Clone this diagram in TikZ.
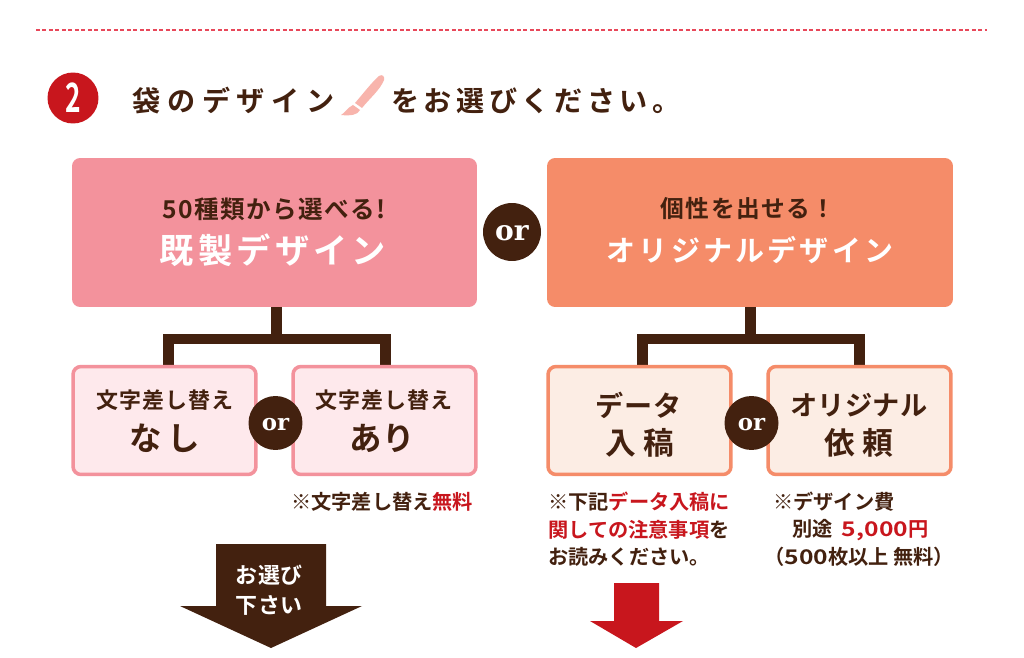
\documentclass[tikz,border=0pt]{standalone}
\usepackage{fontspec}
\setmainfont{Noto Sans CJK JP}[BoldFont=* Bold]
\newfontfamily\orfont{DejaVu Serif}[BoldFont=* Bold]
\definecolor{brown}{HTML}{43210F}
\definecolor{redd}{HTML}{C8161D}
\definecolor{pinkd}{HTML}{F3929C}
\definecolor{pinkl}{HTML}{FEE9EC}
\definecolor{orand}{HTML}{F58C69}
\definecolor{oranl}{HTML}{FCEDE4}
\definecolor{brush}{HTML}{F8B4AC}
\definecolor{dashc}{HTML}{E8485A}
\newcommand{\pxf}[2]{\fontsize{#1}{#1}\selectfont\addfontfeature{LetterSpace=#2}}
\newcommand{\wide}[1]{\scalebox{1.22}[1]{#1}}
\newcommand{\ortxt}{\raisebox{-.6ex}[0pt][0pt]{or}}
\tikzset{%
  bigbox/.style={shape=rectangle,rounded corners=.16cm,inner sep=0,outer sep=0,minimum height=2.98cm},
  smallbox/.style={shape=rectangle,rounded corners=.16cm,line width=.07cm,inner sep=0,outer sep=0,minimum width=3.66cm,minimum height=2.16cm},
  ordot/.style={shape=circle,fill=brown,text=white,inner sep=0},
  txt/.style={inner sep=0,text=brown,font=\bfseries},
  note/.style={txt,anchor=west},
  tree/.style={draw=brown,line width=.22cm}
}

\begin{document}
\begin{tikzpicture}[x=.02cm,y=-.02cm]
    \path[use as bounding box,fill=white] (0,0) rectangle (1024,658);
    \draw[draw=dashc,line width=.025cm,dash pattern=on .08cm off .05cm] (36,30) -- (987,30);
    % heading
    \node[shape=circle,fill=redd,inner sep=0,minimum size=1.02cm] (num) at (73,98) {};
    \node[text=white,font=\bfseries\fontsize{23}{23}\selectfont,xscale=.65] (numtxt) at (73,98) {2};
    \node[txt,anchor=west] (head1) at (132,101) {\pxf{16}{24}袋のデザイン};
    \node[txt,anchor=west] (head2) at (391,101) {\pxf{16}{16}をお選びください。};
    \fill[brush] (379,76) .. controls (382,74) and (385,76) .. (384,80) .. controls (380,90) and (370,98) .. (362,108) -- (355,103) .. controls (362,95) and (372,82) .. (379,76) -- cycle;
    \fill[brush] (353,105) -- (360,110) .. controls (358,115) and (350,116) .. (341,115) .. controls (345,113) and (347,108) .. (353,105) -- cycle;
    % boxes
    \node[bigbox,fill=pinkd,minimum width=8.1cm] (stock) at (274.5,232.5) {};
    \node[bigbox,fill=orand,minimum width=8.12cm] (orig) at (750,232.5) {};
    \node[ordot,minimum size=1.16cm,font=\orfont\bfseries\fontsize{16}{16}\selectfont] (or1) at (512,232) {\ortxt};
    \coordinate (hub1) at (276,339);
    \coordinate (hub2) at (750,339);
    \coordinate (drop1) at (168,366);
    \coordinate (drop2) at (385,366);
    \coordinate (drop3) at (642,366);
    \coordinate (drop4) at (859,366);
    \draw[tree] (hub1 |- stock.south) -- (hub1);
    \draw[tree] (drop1) |- (hub1) -| (drop2);
    \draw[tree] (hub2 |- orig.south) -- (hub2);
    \draw[tree] (drop3) |- (hub2) -| (drop4);
    \node[smallbox,draw=pinkd,fill=pinkl] (none) at (164.5,420.5) {};
    \node[smallbox,draw=pinkd,fill=pinkl] (with) at (384.5,420.5) {};
    \node[smallbox,draw=orand,fill=oranl] (data) at (639.5,420.5) {};
    \node[smallbox,draw=orand,fill=oranl] (req) at (859.5,420.5) {};
    \node[ordot,minimum size=1.08cm,font=\orfont\bfseries\fontsize{13}{13}\selectfont] (or2) at (275.5,423) {\ortxt};
    \node[ordot,minimum size=1.08cm,font=\orfont\bfseries\fontsize{13}{13}\selectfont] (or3) at (751.5,423) {\ortxt};
    % box texts
    \node[txt] (stock1) at (274,209) {\pxf{14}{6}50種類から選べる!};
    \node[txt,text=white] (stock2) at (273,250) {\pxf{19.5}{12}既製デザイン};
    \node[txt] (orig1) at (748,209) {\pxf{13.5}{6}個性を出せる！};
    \node[txt,text=white] (orig2) at (750,250) {\pxf{16.5}{11}オリジナルデザイン};
    \node[txt] (none1) at (165,400) {\pxf{12.5}{4}文字差し替え};
    \node[txt] (none2) at (165,438) {\pxf{18.5}{18}なし};
    \node[txt] (with1) at (384,400) {\pxf{12.5}{4}文字差し替え};
    \node[txt] (with2) at (382,438) {\pxf{18.5}{2}あり};
    \node[txt] (data1) at (639,405) {\pxf{16}{3}データ};
    \node[txt] (data2) at (640,443) {\pxf{17.5}{3}入 稿};
    \node[txt] (req1) at (859,405) {\pxf{15.5}{1}オリジナル};
    \node[txt] (req2) at (859,443) {\pxf{17.5}{3}依 頼};
    % notes
    \node[note] (note1) at (291,502) {\pxf{11.5}{0}※文字差し替え{\color{redd}無料}};
    \node[note] (note2) at (548,502) {\pxf{11.5}{0}※下記{\color{redd}データ入稿に}};
    \node[note] (note3) at (548,530) {\pxf{11.5}{0}{\color{redd}関しての注意事項}を};
    \node[note] (note4) at (548,557) {\pxf{11.5}{0}お読みください。};
    \node[note] (note5) at (773,502) {\pxf{11.5}{0}※デザイン費};
    \node[note] (note6) at (792,530) {\pxf{11.5}{0}別途 \ {\color{redd}\wide{5,000}円}};
    \node[note] (note7) at (764,557) {\pxf{11.5}{0}（\wide{500}枚以上 無料）};
    % arrows
    \fill[brown] (216,544) -- (326,544) -- (326,606) -- (362,606) -- (271,648) -- (180,606) -- (216,606) -- cycle;
    \fill[redd] (614,583) -- (659,583) -- (659,621) -- (683,621) -- (636,648) -- (590,621) -- (614,621) -- cycle;
    \node[txt,text=white] (go1) at (269,575) {\pxf{12.5}{3}お選び};
    \node[txt,text=white] (go2) at (269,605) {\pxf{12.5}{3}下さい};
  \end{tikzpicture}
\end{document}
